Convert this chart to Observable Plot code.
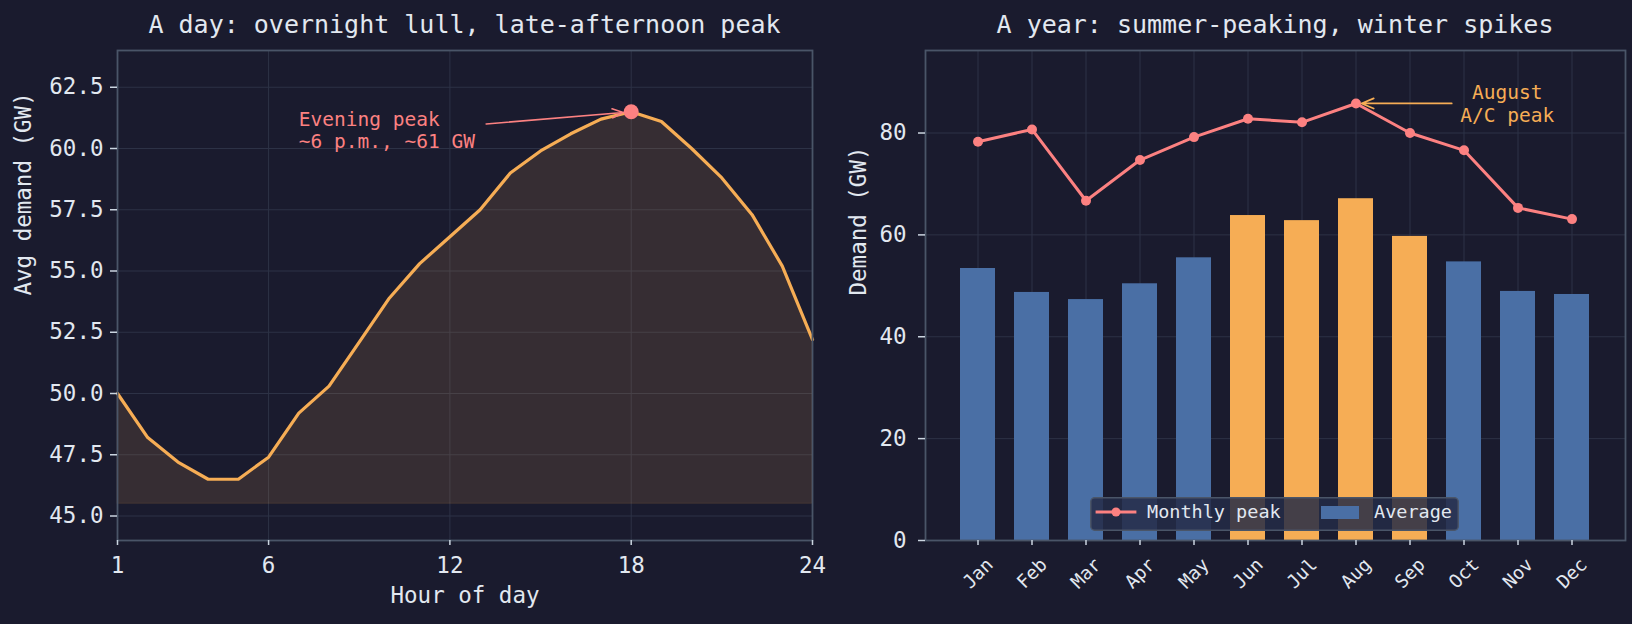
<!DOCTYPE html>
<html>
<head>
<meta charset="utf-8">
<script src="https://cdn.jsdelivr.net/npm/d3@7"></script>
<script src="https://cdn.jsdelivr.net/npm/@observablehq/plot@0.6"></script>
<style>
  html, body { margin: 0; padding: 0; background: #1a1b2e; }
  #fig { position: relative; width: 1632px; height: 624px; overflow: hidden;
         font-family: "DejaVu Sans Mono", monospace; color: #e2e8f0; background: #1a1b2e; }
  .title { position: absolute; top: 9.5px; font-size: 25px; line-height: 30px;
           text-align: center; white-space: nowrap; color: #e2e8f0; }
  .panel { position: absolute; top: 40px; }
  #legend { position: absolute; left: 1090px; top: 497px; }
</style>
</head>
<body>
<div id="fig">
  <div class="title" style="left:0px;width:929px">A day: overnight lull, late-afternoon peak</div>
  <div class="title" style="left:820px;width:910px">A year: summer-peaking, winter spikes</div>
  <div class="panel" id="day" style="left:0px"></div>
  <div class="panel" id="year" style="left:820px"></div>
  <div id="legend"></div>
</div>
<script>
// ---- Hourly profile (average demand by hour of day, GW) ----
const hours = [1, 2, 3, 4, 5, 6, 7, 8, 9, 10, 11, 12, 13, 14, 15, 16, 17, 18, 19, 20, 21, 22, 23, 24];
const hourlyDemandGW = [50.0, 48.2, 47.2, 46.5, 46.5, 47.4, 49.2, 50.3, 52.1, 53.9, 55.3, 56.4,
                        57.5, 59.0, 59.9, 60.6, 61.2, 61.5, 61.1, 60.0, 58.8, 57.3, 55.2, 52.2];
const dayTicksX = [1, 6, 12, 18, 24];
const dayTicksY = [45.0, 47.5, 50.0, 52.5, 55.0, 57.5, 60.0, 62.5];

// ---- Monthly profile (GW) ----
const months = ["Jan", "Feb", "Mar", "Apr", "May", "Jun", "Jul", "Aug", "Sep", "Oct", "Nov", "Dec"];
const monthlyAverageGW = [53.4, 48.7, 47.3, 50.4, 55.5, 63.8, 62.8, 67.1, 59.7, 54.7, 48.9, 48.3];
const monthlyPeakGW = [78.3, 80.7, 66.7, 74.7, 79.2, 82.8, 82.1, 85.8, 80.0, 76.6, 65.3, 63.1];
const summerMonths = ["Jun", "Jul", "Aug", "Sep"];
const yearTicksY = [0, 20, 40, 60, 80];

// ---- Palette & type ----
const TEXT = "#e2e8f0";
const TICK = "#cbd5e0";
const GRID = "#2d3246";
const FRAME = "#4a5568";
const ORANGE = "#f6ad55";
const BLUE = "#4a6fa5";
const SALMON = "#fc8181";
const FONT = "DejaVu Sans Mono, monospace";

const dayRows = hours.map((h, i) => ({hour: h, gw: hourlyDemandGW[i]}));
const dayPeak = dayRows.reduce((a, b) => (b.gw > a.gw ? b : a));
const dayFloor = 45.5;

const yearRows = months.map((m, i) => ({
  month: m,
  avg: monthlyAverageGW[i],
  peak: monthlyPeakGW[i],
  fill: summerMonths.includes(m) ? ORANGE : BLUE
}));
const augRow = yearRows.find(d => d.month === "Aug");

const baseStyle = {background: "transparent", color: TEXT, fontFamily: FONT, fontSize: "22.5px", overflow: "visible"};

// Left panel: hourly demand curve with shaded area
const dayPlot = Plot.plot({
  width: 830, height: 584,
  marginLeft: 117, marginRight: 18, marginTop: 10, marginBottom: 84,
  style: baseStyle,
  x: {domain: [1, 24]},
  y: {domain: [44, 64]},
  marks: [
    Plot.gridX(dayTicksX, {stroke: GRID, strokeOpacity: 1, strokeWidth: 1}),
    Plot.gridY(dayTicksY, {stroke: GRID, strokeOpacity: 1, strokeWidth: 1}),
    Plot.area(dayRows, {x1: "hour", y1: () => dayFloor, y2: "gw", fill: ORANGE, fillOpacity: 0.13,
                        stroke: ORANGE, strokeOpacity: 0.12, strokeWidth: 1.2}),
    Plot.line(dayRows, {x: "hour", y: "gw", stroke: ORANGE, strokeWidth: 3.2, strokeLinejoin: "round"}),
    Plot.arrow([dayPeak], {x1: () => 13.2, y1: () => 61.0, x2: "hour", y2: "gw",
                           stroke: SALMON, strokeWidth: 1.6, insetEnd: 8, headLength: 11, headAngle: 45}),
    Plot.dot([dayPeak], {x: "hour", y: "gw", r: 7.5, fill: SALMON, stroke: null}),
    Plot.text(["Evening peak\n~6 p.m., ~61 GW"], {x: () => 7, y: () => 60.77, text: d => d,
                           textAnchor: "start", lineAnchor: "middle", lineHeight: 1.16,
                           fill: SALMON, fontSize: 19.5}),
    Plot.frame({stroke: FRAME, strokeWidth: 1.8}),
    Plot.axisX(dayTicksX, {tickSize: 5, tickPadding: 12, stroke: TICK, strokeWidth: 1.5,
                           fill: TEXT, fontSize: 22.5, label: null}),
    Plot.axisY(dayTicksY, {tickSize: 7, tickPadding: 7, stroke: TICK, strokeWidth: 1.5,
                           fill: TEXT, fontSize: 22.5, label: null, tickFormat: d3.format(".1f")}),
    Plot.text(["Hour of day"], {frameAnchor: "bottom", dy: 55.6, text: d => d, fill: TEXT,
                           fontSize: 22.5, lineAnchor: "middle"}),
    Plot.text(["Avg demand (GW)"], {frameAnchor: "left", dx: -94, rotate: -90, text: d => d,
                           fill: TEXT, fontSize: 22.5, lineAnchor: "middle"})
  ]
});
document.getElementById("day").append(dayPlot);

// Right panel: monthly average bars with monthly peak line
const yearPlot = Plot.plot({
  width: 812, height: 584,
  marginLeft: 105, marginRight: 7, marginTop: 10, marginBottom: 84,
  style: baseStyle,
  x: {domain: months, paddingInner: 0.35, paddingOuter: 0.575, align: 0.5},
  y: {domain: [0, 96.2]},
  color: {type: "identity"},
  marks: [
    Plot.gridX(months, {stroke: GRID, strokeOpacity: 1, strokeWidth: 1}),
    Plot.gridY(yearTicksY, {stroke: GRID, strokeOpacity: 1, strokeWidth: 1}),
    Plot.barY(yearRows, {x: "month", y: "avg", fill: "fill"}),
    Plot.line(yearRows, {x: "month", y: "peak", stroke: SALMON, strokeWidth: 3}),
    Plot.dot(yearRows, {x: "month", y: "peak", r: 5, fill: SALMON, stroke: null}),
    Plot.arrow([augRow], {x1: () => "Oct", y1: "peak", x2: "month", y2: "peak",
                          stroke: ORANGE, strokeWidth: 1.8, insetStart: 12.3, insetEnd: 5.5,
                          headLength: 11, headAngle: 45}),
    Plot.text(["August\nA/C peak"], {x: () => "Oct", y: () => augRow.peak, dx: 43.3, text: d => d,
                          textAnchor: "middle", lineAnchor: "middle", lineHeight: 1.18,
                          fill: ORANGE, fontSize: 19.5}),
    Plot.frame({stroke: FRAME, strokeWidth: 1.8}),
    Plot.axisY(yearTicksY, {tickSize: 7, tickPadding: 12, stroke: TICK, strokeWidth: 1.5,
                            fill: TEXT, fontSize: 22.5, label: null}),
    Plot.axisX(months, {tickSize: 5, tickFormat: () => "", stroke: TICK, strokeWidth: 1.5, label: null}),
    Plot.text(months, {x: d => d, frameAnchor: "bottom", dy: 33, rotate: -45, text: d => d,
                       textAnchor: "middle", lineAnchor: "middle", fill: TEXT, fontSize: 18.5}),
    Plot.text(["Demand (GW)"], {frameAnchor: "left", dx: -67, rotate: -90, text: d => d,
                       fill: TEXT, fontSize: 22.5, lineAnchor: "middle"})
  ]
});
document.getElementById("year").append(yearPlot);

// Legend for the monthly panel
(function drawLegend() {
  const w = 369, h = 34;
  const svg = d3.create("svg").attr("width", w).attr("height", h)
    .style("overflow", "visible").style("font-family", FONT);
  svg.append("rect").attr("x", 0.75).attr("y", 0.75).attr("width", w - 1.5).attr("height", h - 1.5)
    .attr("rx", 4).attr("fill", "#252b46").attr("fill-opacity", 0.85)
    .attr("stroke", FRAME).attr("stroke-width", 1.5);
  svg.append("line").attr("x1", 5.6).attr("x2", 46.4).attr("y1", 15).attr("y2", 15)
    .attr("stroke", SALMON).attr("stroke-width", 3);
  svg.append("circle").attr("cx", 26).attr("cy", 15).attr("r", 4.5).attr("fill", SALMON);
  svg.append("text").attr("x", 57).attr("y", 21.3).attr("fill", TEXT)
    .attr("font-size", 18.5).text("Monthly peak");
  svg.append("rect").attr("x", 231).attr("y", 9).attr("width", 38).attr("height", 13).attr("fill", BLUE);
  svg.append("text").attr("x", 284).attr("y", 21.3).attr("fill", TEXT)
    .attr("font-size", 18.5).text("Average");
  document.getElementById("legend").append(svg.node());
})();
</script>
</body>
</html>
